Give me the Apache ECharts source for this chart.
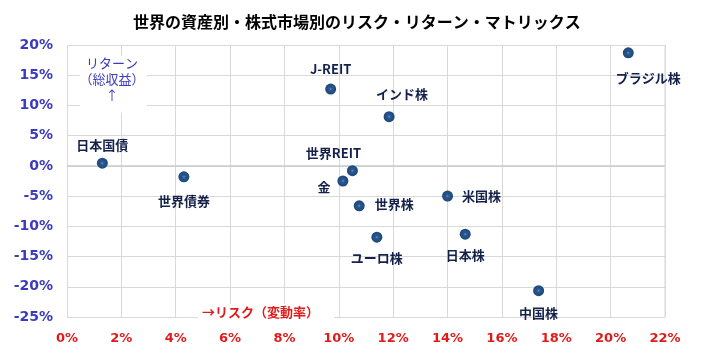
<!DOCTYPE html>
<html><head><meta charset="utf-8">
<script src="https://cdn.jsdelivr.net/npm/echarts@6/dist/echarts.min.js"></script>
<style>html,body{margin:0;padding:0;background:#fff}#c{width:701px;height:356px}</style>
</head><body><div id="c"></div>
<script>
const names = ['日本国債','世界債券','J-REIT','金','世界REIT','インド株','世界株','米国株','ブラジル株','ユーロ株','日本株','中国株'];
const risk = [1.3, 4.3, 9.7, 10.15, 10.5, 11.85, 10.75, 14.0, 20.65, 11.4, 14.65, 17.35];
const ret = [0.45, -1.8, 12.7, -2.5, -0.8, 8.15, -6.6, -5.0, 18.7, -11.8, -11.3, -20.65];
const yTicks = [-25, -20, -15, -10, -5, 0, 5, 10, 15, 20];
const xTicks = [0, 2, 4, 6, 8, 10, 12, 14, 16, 18, 20, 22];

const labelPos = {
  '日本国債': {position:'top', distance:6},
  '世界債券': {position:'bottom', distance:12},
  'J-REIT': {position:'top', distance:8},
  '金': {position:'left', offset:[-2,6]},
  '世界REIT': {position:'top', offset:[-19,-1]},
  'インド株': {position:'top', offset:[13,-6]},
  '世界株': {position:'right', offset:[5,-2]},
  '米国株': {position:'right', offset:[4,0]},
  'ブラジル株': {position:'bottom', offset:[20,8]},
  'ユーロ株': {position:'bottom', distance:9},
  '日本株': {position:'bottom', distance:9},
  '中国株': {position:'bottom', distance:10}
};

const chart = echarts.init(document.getElementById('c'));
const data = names.map((n,i)=>({
  name:n, value:[risk[i], ret[i]],
  label: Object.assign({show:true, formatter:'{b}'}, labelPos[n])
}));
chart.setOption({
  animation:false,
  title:{text:'世界の資産別・株式市場別のリスク・リターン・マトリックス', left:128, top:9,
    textStyle:{fontFamily:'Noto Sans CJK JP', fontSize:16, fontWeight:'bold', color:'#000'}},
  grid:{left:67, right:36, top:45, bottom:39},
  xAxis:{type:'value', min:xTicks[0], max:xTicks[xTicks.length-1], interval:2,
    axisLine:{show:false}, axisTick:{show:false},
    splitLine:{show:true, lineStyle:{color:'#d9d9d9'}},
    axisLabel:{formatter:'{value}%', color:'#e01b1b', fontWeight:'bold', fontSize:13, margin:15, fontFamily:'DejaVu Sans'}},
  yAxis:{type:'value', min:yTicks[0], max:yTicks[yTicks.length-1], interval:5,
    axisLine:{show:false}, axisTick:{show:false},
    splitLine:{show:true, lineStyle:{color:'#d9d9d9'}},
    axisLabel:{formatter:'{value}%', color:'#3b3bbf', fontWeight:'bold', fontSize:14, margin:14, fontFamily:'DejaVu Sans'}},
  series:[
    {type:'scatter', symbolSize:11, data:data,
      itemStyle:{opacity:1, color:new echarts.graphic.RadialGradient(0.5,0.5,0.5,[{offset:0,color:'#6a9ad6'},{offset:0.25,color:'#2a5a92'},{offset:1,color:'#1d4677'}])},
      label:{color:'#14214a', fontWeight:'bold', fontSize:13, fontFamily:'Noto Sans CJK JP'}},
    {type:'line', data:[[0,0],[22,0]], symbol:'none', silent:true, lineStyle:{color:'#bfbfbf', width:1}, z:1},
    {type:'line', data:[[22,-25],[22,20]], symbol:'none', silent:true, lineStyle:{color:'#d9d9d9', width:1}, z:1}
  ],
  graphic:[
    {type:'rect', left:80, top:56, shape:{width:67,height:57}, style:{fill:'#fff'}, z:10},
    {type:'text', x:112, y:55, z:11, style:{text:'リターン\n（総収益）\n↑', align:'center', verticalAlign:'top',
      fill:'#3b3bbf', font:'13px "Noto Sans CJK JP"', lineHeight:16}},
    {type:'rect', left:198, top:304, shape:{width:136,height:14}, style:{fill:'#fff'}, z:10},
    {type:'text', x:202, y:312, z:11, style:{text:'→リスク（変動率）', verticalAlign:'middle', fill:'#e01b1b', font:'bold 13px "Noto Sans CJK JP"'}}
  ]
});
</script></body></html>
